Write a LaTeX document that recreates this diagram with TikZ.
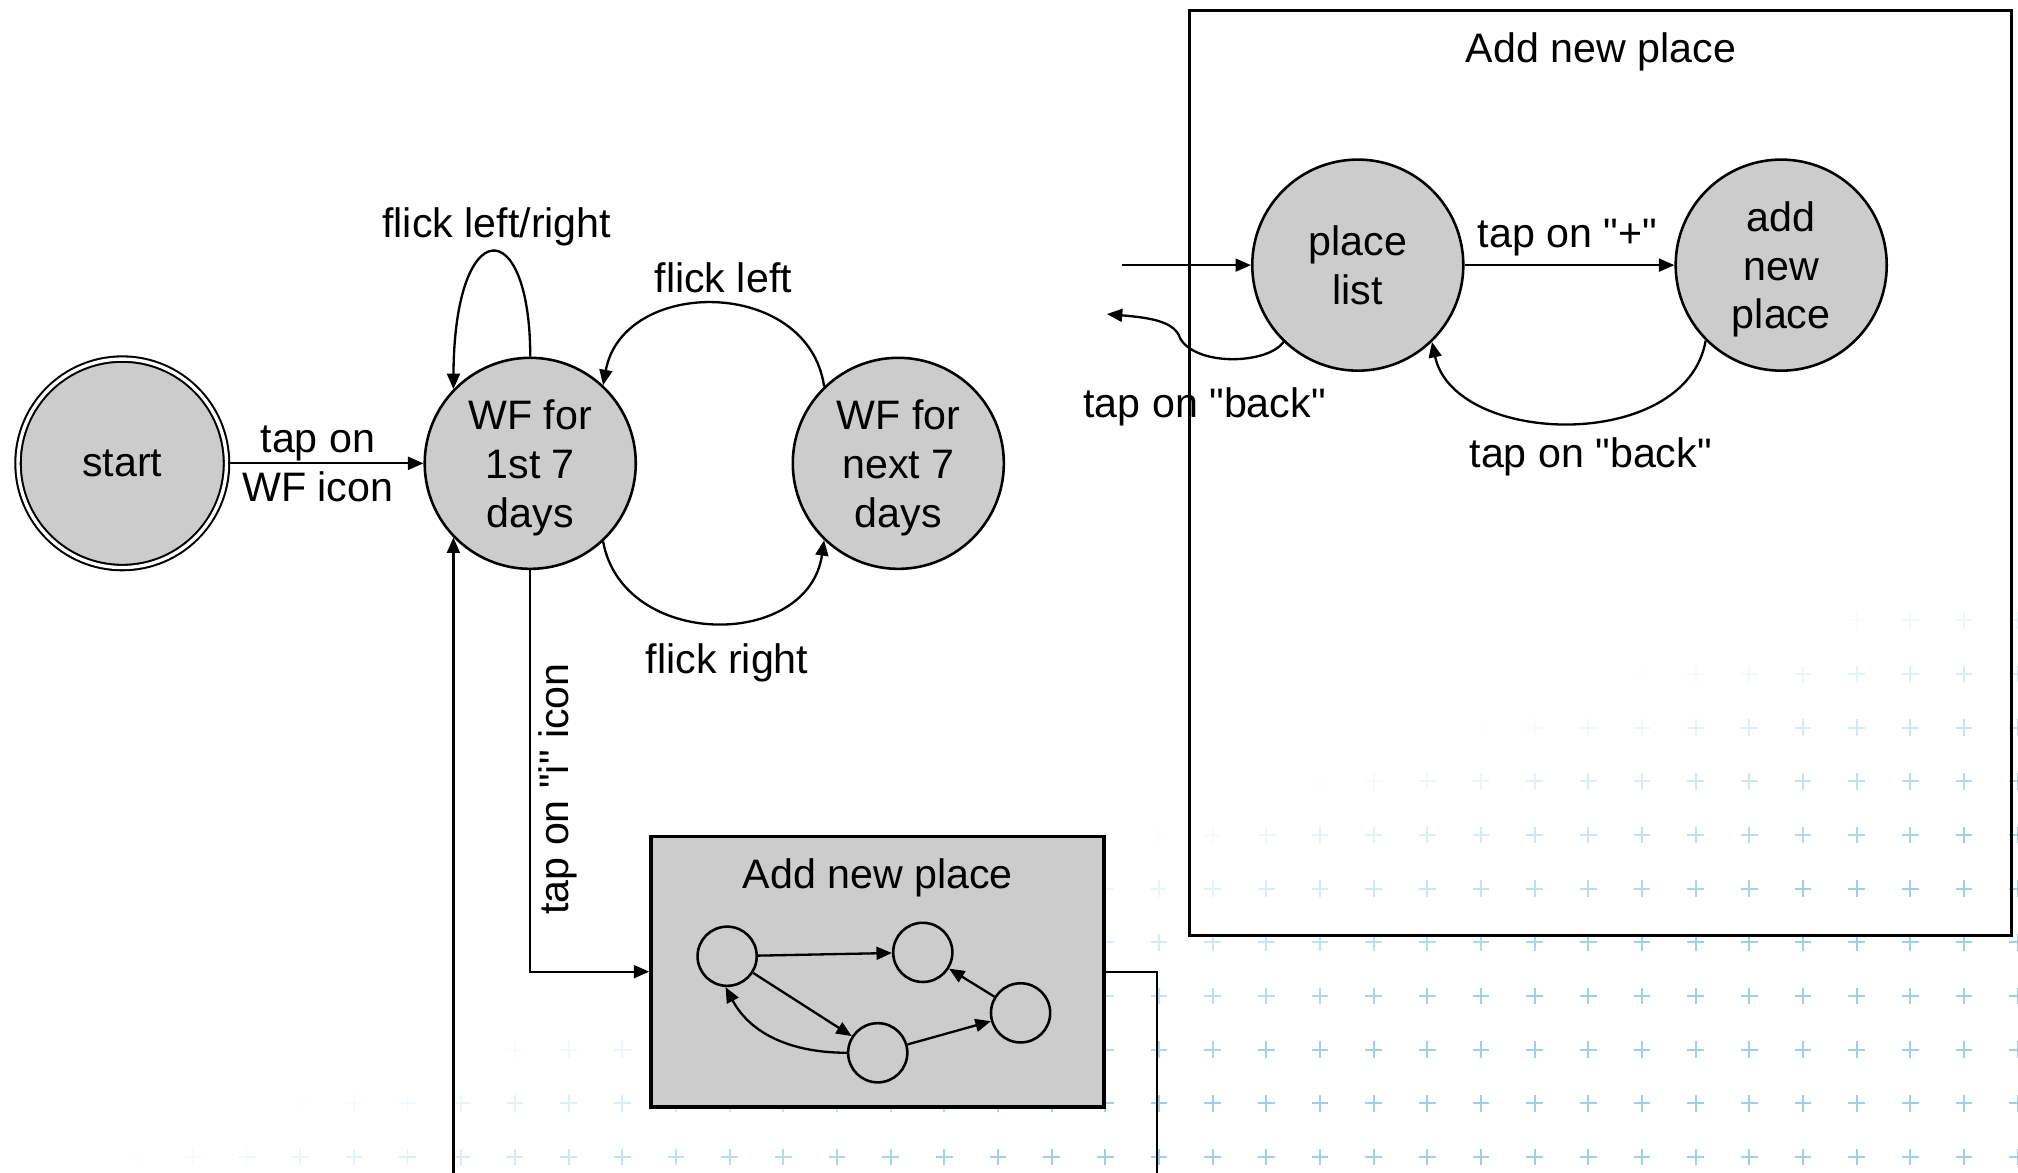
\documentclass[tikz,border=0pt]{standalone}
\usepackage{fontspec}
\setmainfont{Liberation Sans}
\usetikzlibrary{arrows.meta}
\definecolor{stategray}{RGB}{204,204,204}
\definecolor{gridblue}{RGB}{128,192,226}
% straight double quote, set without the TeX ligature mapping
\font\plainquotefont="Liberation Sans" at 16pt
\newcommand\dquote{{\plainquotefont"}}

\begin{document}
\begin{tikzpicture}[x=0.5pt,y=0.5pt,
  every node/.style={font=\fontsize{16}{19}\selectfont},
  state/.style={circle, draw, fill=stategray, line width=1pt, minimum size=82pt, inner sep=0pt, align=center, text depth=0pt},
  mini/.style={circle, draw, line width=1pt, minimum size=23pt, inner sep=0pt},
  arr/.style={line width=0.9pt, -{Triangle[length=6pt,width=5pt]}},
  lbl/.style={inner sep=0pt, align=center, text depth=0pt},
  frame/.style={draw, inner sep=0pt},
]
\useasboundingbox (0,0) rectangle (1568,-911);
\clip (0,0) rectangle (1568,-911);
\fill[white] (0,0) rectangle (1568,-911);

% faint grid of crosses, fading towards the upper left
\foreach \k in {-1,...,36} {
  \foreach \j in {0,...,10} {
    \pgfmathsetmacro{\px}{1526-41.7*\k}
    \pgfmathsetmacro{\py}{899-41.7*\j}
    \pgfmathsetmacro{\op}{min(0.75,max(0,(\py+0.32*\px-930)/280))}
    \ifdim\op pt>0pt
      \draw[gridblue, draw opacity=\op, line width=0.7pt]
        (\px-6.5,-\py) -- (\px+6.5,-\py) (\px,-\py-6.5) -- (\px,-\py+6.5);
    \fi
  }
}

% sub-machine frame (expanded)
\node[frame, line width=1.1pt, minimum width=319.5pt, minimum height=359.5pt] (bigbox) at (1243.5,-367.5) {};
\node[lbl] (bigtitle) at (1244,-37) {Add new place};

% sub-machine block (collapsed)
\node[frame, fill=stategray, line width=1.5pt, minimum width=176pt, minimum height=105pt] (subbox) at (682,-755) {};
\node[lbl] (subtitle) at (682,-679) {Add new place};
\node[mini] (m1) at (565,-743) {};
\node[mini] (m2) at (717,-740) {};
\node[mini] (m3) at (682,-818) {};
\node[mini] (m4) at (793,-787) {};
\draw[arr] (m1) -- (m2);
\draw[arr] (m1) -- (m3);
\draw[arr] (m3.180) to[out=180,in=-62] (m1.-93);
\draw[arr] (m3) -- (m4);
\draw[arr] (m4) -- (m2);

% states
\node[state, double, double distance=1.3pt, line width=0.8pt, minimum size=81pt] (start) at (95,-360) {start};
\node[state] (wf1) at (412,-360) {WF for\\1st 7\\days};
\node[state] (wf2) at (698,-360) {WF for\\next 7\\days};
\node[state] (plist) at (1055,-206) {place\\list};
\node[state] (anp) at (1384,-206) {add\\new\\place};

% transitions of the main machine
\draw[arr] (start) -- (wf1);
\node[lbl] (lstart) at (247,-360) {tap on\\WF icon};

\draw[arr] (wf1.90) .. controls (412,-165) and (353,-165) .. (wf1.136);
\node[lbl] (lloop) at (386,-173) {flick left/right};

\draw[arr] (wf2.134) .. controls (628,-215) and (484,-215) .. (wf1.47);
\node[lbl] (lleft) at (562,-216) {flick left};

\draw[arr] (wf1.-47) .. controls (484,-505) and (628,-505) .. (wf2.-134);
\node[lbl] (lright) at (565,-512) {flick right};

\draw[arr] (wf1.south) |- (subbox.west);
\node[lbl, rotate=90] (linfo) at (430,-613) {tap on \dquote i\dquote{} icon};

\coordinate (retcorner) at (899,-940);
\draw[arr] (subbox.east) -| (retcorner) -- (retcorner -| wf1.-136) -- (wf1.-136);

% transitions of the sub-machine
\coordinate (entry) at (872,-206);
\coordinate (kink) at (917,-263);
\coordinate (backout) at (860,-244);
\draw[arr] (entry) -- (plist);
\draw[arr] (plist.-134) .. controls (985,-283) and (930,-285) .. (kink)
  .. controls (913,-250) and (895,-247) .. (backout);
\node[lbl] (lexit) at (936,-313) {tap on \dquote back\dquote};

\draw[arr] (plist) -- (anp);
\node[lbl] (lplus) at (1218,-181) {tap on \dquote+\dquote};

\draw[arr] (anp.-135) .. controls (1310,-352) and (1130,-347) .. (plist.-46);
\node[lbl] (lback) at (1236,-352) {tap on \dquote back\dquote};
\end{tikzpicture}
\end{document}
